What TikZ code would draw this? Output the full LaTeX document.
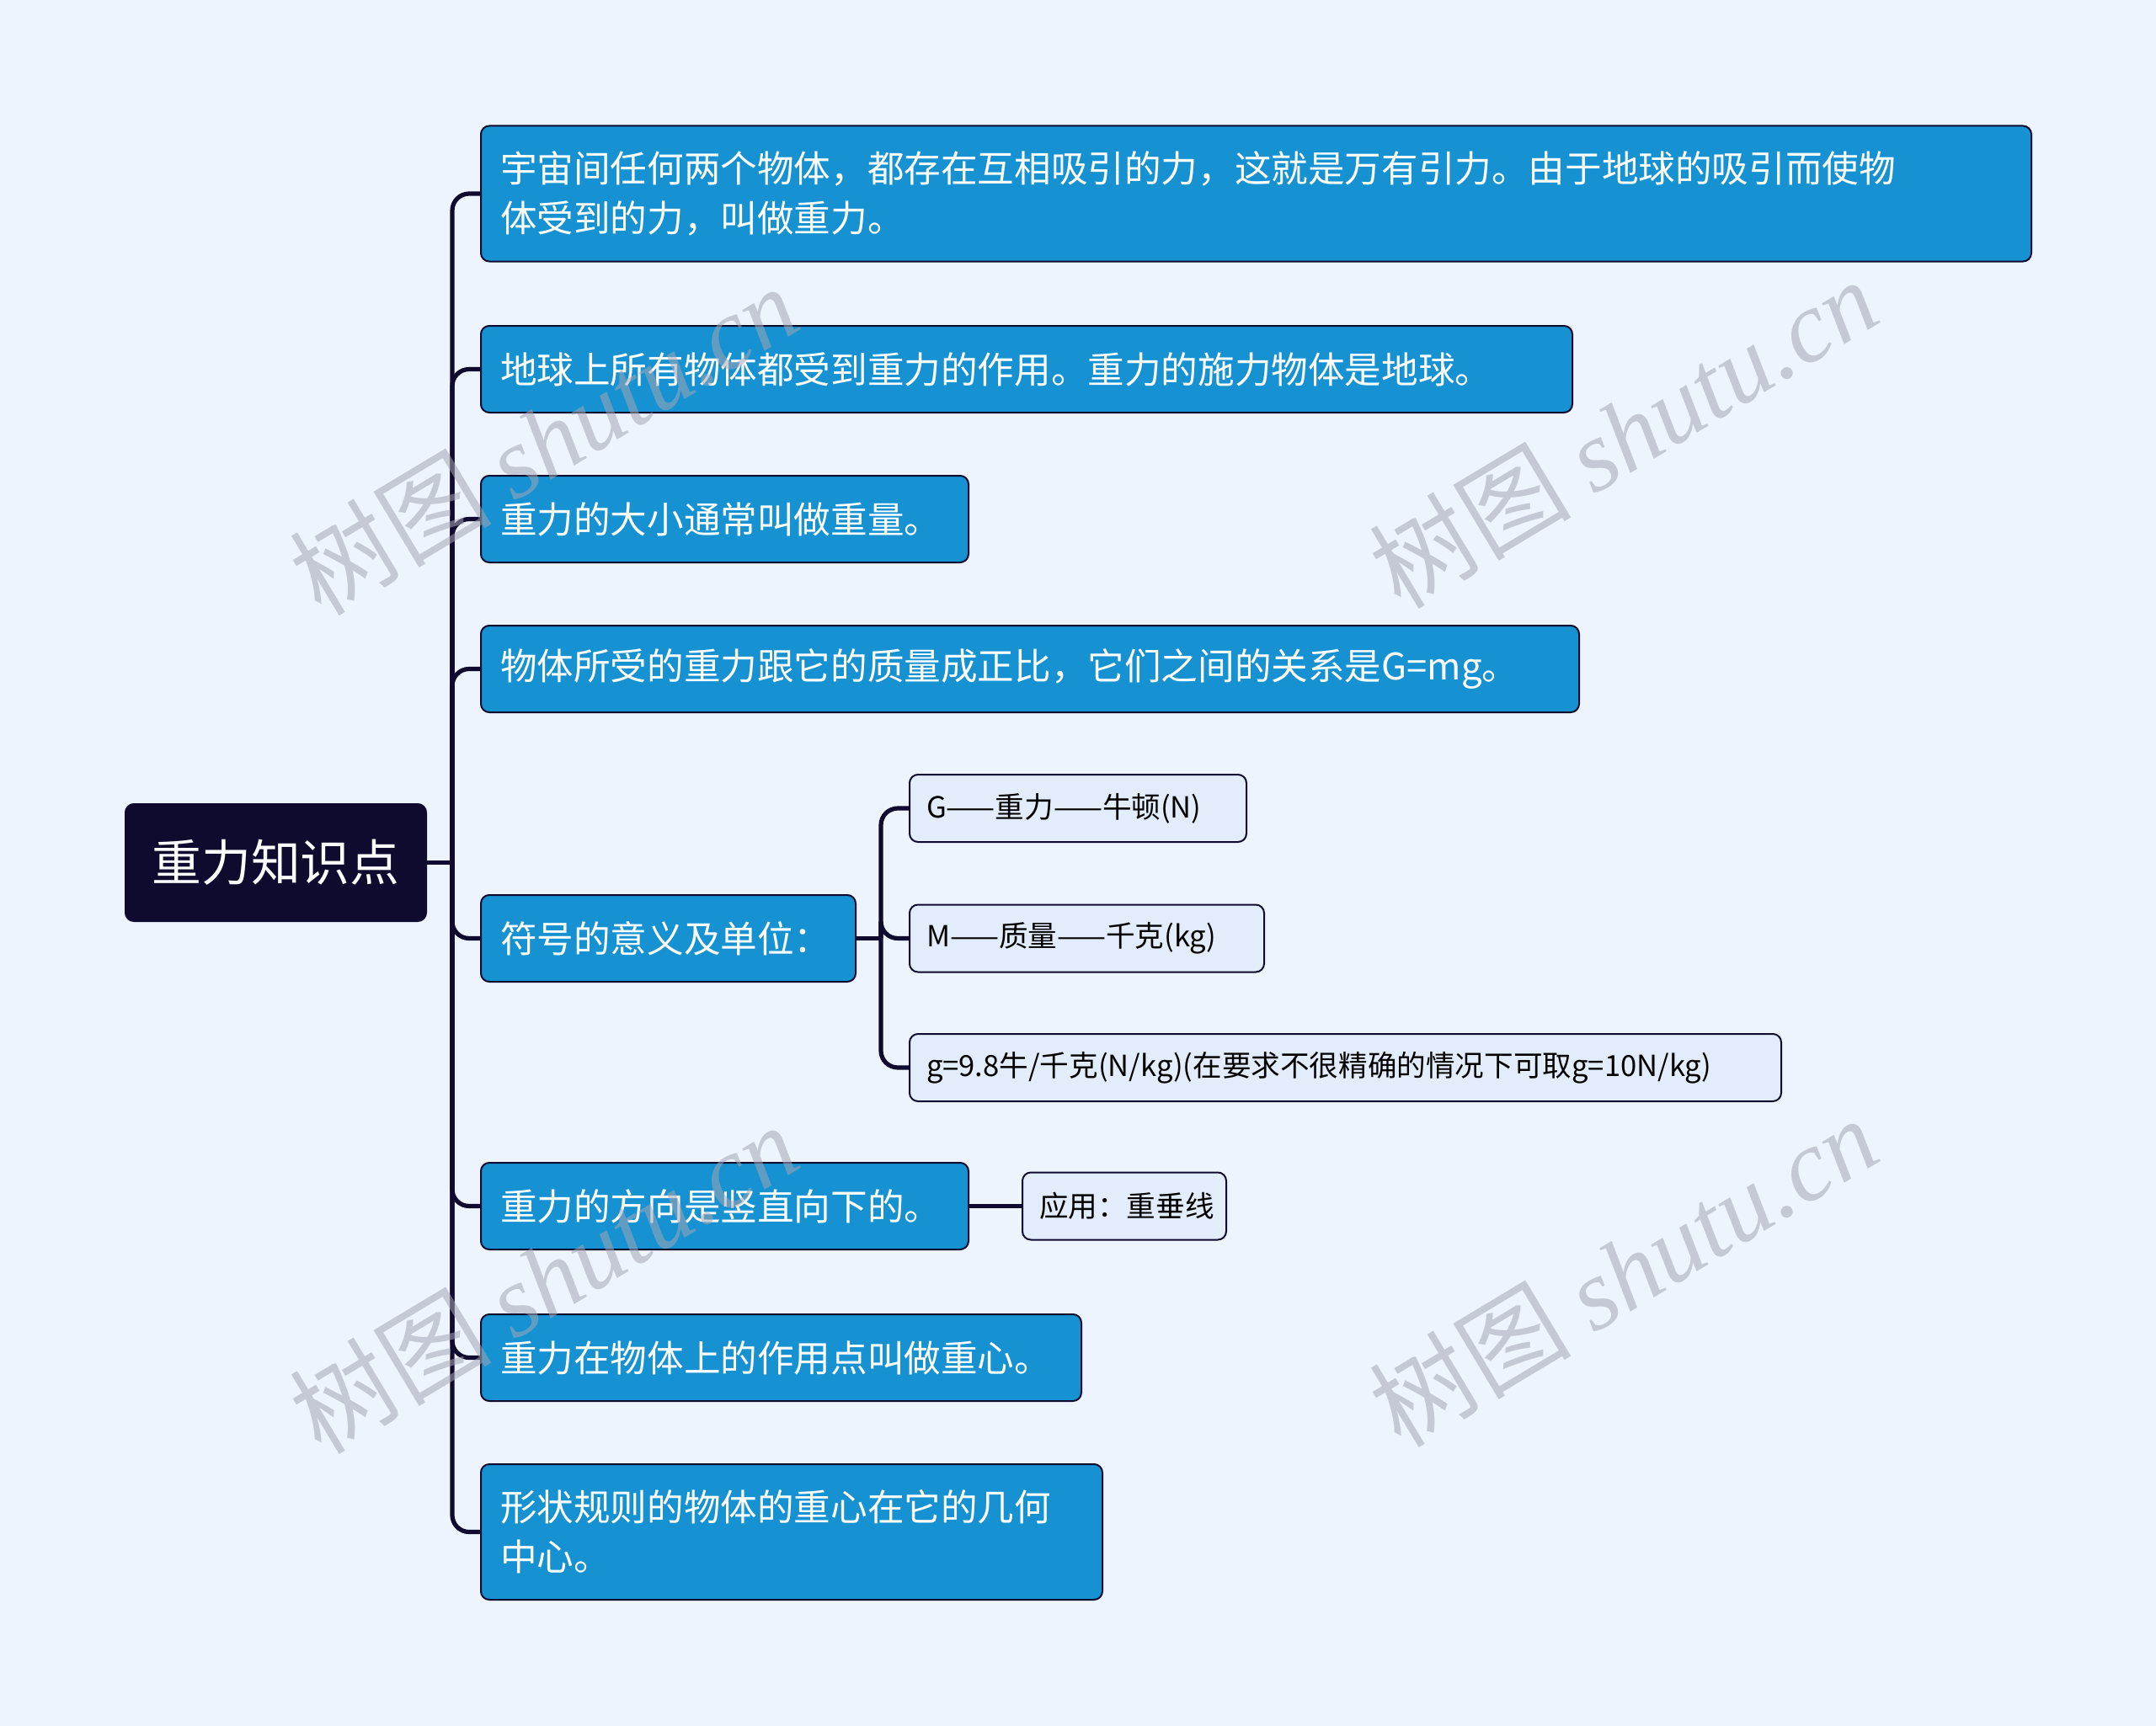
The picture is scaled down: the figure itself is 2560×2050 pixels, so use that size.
\documentclass[tikz,border=0pt]{standalone}
\usepackage{fontspec}
\setmainfont{Noto Sans CJK SC}
\newfontfamily\wmlatin{Liberation Serif}
\usetikzlibrary{positioning,calc}
\definecolor{bgblue}{HTML}{EEF4FE}
\definecolor{navy}{HTML}{0E0B2E}
\definecolor{boxblue}{HTML}{1692D2}
\definecolor{paleblue}{HTML}{E3ECFB}
\definecolor{wmgrey}{HTML}{A4A6B4}
\tikzset{
  topic/.style={rectangle, rounded corners=5pt, draw=navy, fill=navy, text=white,
                line width=1pt, font=\fontsize{29.4}{36}\selectfont,
                minimum width=178.5pt, minimum height=69.5pt},
  blk/.style={rectangle, rounded corners=5pt, draw=navy, fill=boxblue, text=white,
              line width=1pt, anchor=west, align=left, inner xsep=11.5pt,
              text width=#1, minimum height=51.5pt,
              font=\fontsize{21.8}{29.4}\selectfont},
  leaf/.style={rectangle, rounded corners=5pt, draw=navy, fill=paleblue, text=black,
               line width=1pt, anchor=west, align=left, inner xsep=10pt,
               text width=#1, minimum height=40pt,
               font=\fontsize{17.3}{22}\selectfont},
  link/.style={draw=navy, line width=2.6pt, rounded corners=10pt},
  wm/.style={text=wmgrey, opacity=0.55, rotate=31, font=\fontsize{60}{66}\selectfont},
}
\begin{document}
\begin{tikzpicture}[x=0.5pt,y=-0.5pt]
  \useasboundingbox[fill=bgblue] (0,0) rectangle (2560,2050);

  % centre topic
  \node[topic] (root) at (327.5,1024.5) {重力知识点};

  % main branches
  \node[blk=897.5pt, minimum height=80.5pt] (k1) at (570,230)
    {宇宙间任何两个物体，都存在互相吸引的力，这就是万有引力。由于地球的吸引而使物\\体受到的力，叫做重力。};
  \node[blk=625pt] (k2) at (570,438.5) {地球上所有物体都受到重力的作用。重力的施力物体是地球。};
  \node[blk=266.5pt] (k3) at (570,616.5) {重力的大小通常叫做重量。};
  \node[blk=629pt] (k4) at (570,794.5) {物体所受的重力跟它的质量成正比，它们之间的关系是G=mg。};
  \node[blk=199.5pt] (k5) at (570,1114.5) {符号的意义及单位：};
  \node[blk=266.5pt] (k6) at (570,1432.5) {重力的方向是竖直向下的。};
  \node[blk=333.5pt] (k7) at (570,1612.5) {重力在物体上的作用点叫做重心。};
  \node[blk=346pt, minimum height=80.5pt] (k8) at (570,1819.5)
    {形状规则的物体的重心在它的几何\\中心。};

  % leaves
  \node[leaf=180pt] (s1) at (1079,960) {G——重力——牛顿(N)};
  \node[leaf=190.5pt] (s2) at (1079,1114.5) {M——质量——千克(kg)};
  \node[leaf=497.5pt] (s3) at (1079,1268) {g=9.8牛/千克(N/kg)(在要求不很精确的情况下可取g=10N/kg)};
  \node[leaf=101pt] (s4) at (1213,1432.5) {应用：重垂线};

  % connectors
  \coordinate (hub) at (537,1024.5);
  \draw[link] (root.east) -- (hub);
  \foreach \k in {k1,k2,k3,k4,k5,k6,k7,k8}
    \draw[link] (hub) |- (\k.west);
  \coordinate (subhub) at (1046,1114.5);
  \draw[link] (k5.east) -- (subhub);
  \foreach \s in {s1,s2,s3}
    \draw[link] (subhub) |- (\s.west);
  \draw[link] (k6.east) -- (s4.west);

  % watermark
  \foreach \p [count=\i] in {(645,522),(1927,514),(645,1518),(1927,1510)}
    \node[wm] (wm\i) at \p {树图 {\wmlatin\itshape shutu.cn}};
\end{tikzpicture}
\end{document}
